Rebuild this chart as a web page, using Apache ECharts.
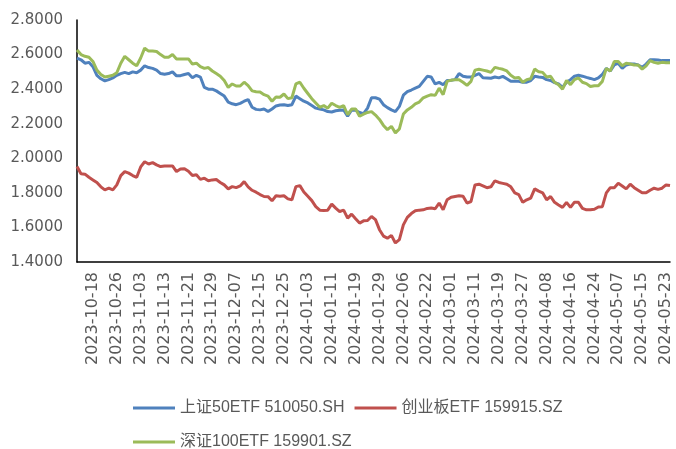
<!DOCTYPE html>
<html>
<head>
<meta charset="utf-8">
<script src="https://cdn.jsdelivr.net/npm/echarts/dist/echarts.min.js"></script>
<style>
  html, body { margin: 0; padding: 0; background: #fff; }
  #chart { width: 676px; height: 449px; }
</style>
</head>
<body>
<div id="chart"></div>
<script>
// trading days 2023-10-12 .. 2024-05-24
const dates = [
  '2023-10-12', '2023-10-13', '2023-10-16', '2023-10-17', '2023-10-18', '2023-10-19', '2023-10-20', '2023-10-23', '2023-10-24', '2023-10-25',
  '2023-10-26', '2023-10-27', '2023-10-30', '2023-10-31', '2023-11-01', '2023-11-02', '2023-11-03', '2023-11-06', '2023-11-07', '2023-11-08',
  '2023-11-09', '2023-11-10', '2023-11-13', '2023-11-14', '2023-11-15', '2023-11-16', '2023-11-17', '2023-11-20', '2023-11-21', '2023-11-22',
  '2023-11-23', '2023-11-24', '2023-11-27', '2023-11-28', '2023-11-29', '2023-11-30', '2023-12-01', '2023-12-04', '2023-12-05', '2023-12-06',
  '2023-12-07', '2023-12-08', '2023-12-11', '2023-12-12', '2023-12-13', '2023-12-14', '2023-12-15', '2023-12-18', '2023-12-19', '2023-12-20',
  '2023-12-21', '2023-12-22', '2023-12-25', '2023-12-26', '2023-12-27', '2023-12-28', '2023-12-29', '2024-01-02', '2024-01-03', '2024-01-04',
  '2024-01-05', '2024-01-08', '2024-01-09', '2024-01-10', '2024-01-11', '2024-01-12', '2024-01-15', '2024-01-16', '2024-01-17', '2024-01-18',
  '2024-01-19', '2024-01-22', '2024-01-23', '2024-01-24', '2024-01-25', '2024-01-26', '2024-01-29', '2024-01-30', '2024-01-31', '2024-02-01',
  '2024-02-02', '2024-02-05', '2024-02-06', '2024-02-07', '2024-02-08', '2024-02-19', '2024-02-20', '2024-02-21', '2024-02-22', '2024-02-23',
  '2024-02-26', '2024-02-27', '2024-02-28', '2024-02-29', '2024-03-01', '2024-03-04', '2024-03-05', '2024-03-06', '2024-03-07', '2024-03-08',
  '2024-03-11', '2024-03-12', '2024-03-13', '2024-03-14', '2024-03-15', '2024-03-18', '2024-03-19', '2024-03-20', '2024-03-21', '2024-03-22',
  '2024-03-25', '2024-03-26', '2024-03-27', '2024-03-28', '2024-03-29', '2024-04-01', '2024-04-02', '2024-04-03', '2024-04-08', '2024-04-09',
  '2024-04-10', '2024-04-11', '2024-04-12', '2024-04-15', '2024-04-16', '2024-04-17', '2024-04-18', '2024-04-19', '2024-04-22', '2024-04-23',
  '2024-04-24', '2024-04-25', '2024-04-26', '2024-04-29', '2024-04-30', '2024-05-06', '2024-05-07', '2024-05-08', '2024-05-09', '2024-05-10',
  '2024-05-13', '2024-05-14', '2024-05-15', '2024-05-16', '2024-05-17', '2024-05-20', '2024-05-21', '2024-05-22', '2024-05-23', '2024-05-24'
]

const tickLabels = [
  '2023-10-18', '2023-10-26', '2023-11-03', '2023-11-13', '2023-11-21', '2023-11-29', '2023-12-07', '2023-12-15', '2023-12-25',
  '2024-01-03', '2024-01-11', '2024-01-19', '2024-01-29', '2024-02-06', '2024-02-22', '2024-03-01', '2024-03-11', '2024-03-19',
  '2024-03-27', '2024-04-08', '2024-04-16', '2024-04-24', '2024-05-07', '2024-05-15', '2024-05-23'
]

const seriesNames = ['上证50ETF 510050.SH', '创业板ETF 159915.SZ', '深证100ETF 159901.SZ']

const sz50 = [
  2.580, 2.570, 2.550, 2.555, 2.530, 2.480, 2.460, 2.448, 2.455, 2.465,
  2.480, 2.490, 2.497, 2.490, 2.500, 2.495, 2.510, 2.535, 2.525, 2.520,
  2.510, 2.490, 2.486, 2.490, 2.500, 2.477, 2.478, 2.485, 2.490, 2.466,
  2.480, 2.470, 2.410, 2.400, 2.400, 2.390, 2.375, 2.360, 2.325, 2.315,
  2.310, 2.318, 2.330, 2.340, 2.295, 2.283, 2.280, 2.285, 2.270, 2.285,
  2.303, 2.308, 2.310, 2.305, 2.310, 2.360, 2.345, 2.330, 2.320, 2.305,
  2.290, 2.285, 2.280, 2.270, 2.268, 2.275, 2.278, 2.280, 2.243, 2.280,
  2.278, 2.265, 2.258, 2.290, 2.350, 2.350, 2.342, 2.310, 2.293, 2.280,
  2.270, 2.300, 2.365, 2.385, 2.395, 2.406, 2.416, 2.445, 2.474, 2.470,
  2.430, 2.439, 2.425, 2.450, 2.452, 2.455, 2.490, 2.475, 2.470, 2.470,
  2.480, 2.490, 2.466, 2.465, 2.463, 2.470, 2.465, 2.474, 2.460, 2.445,
  2.445, 2.445, 2.440, 2.440, 2.450, 2.474, 2.470, 2.468, 2.455, 2.450,
  2.438, 2.430, 2.410, 2.440, 2.455, 2.475, 2.480, 2.475, 2.468, 2.462,
  2.455, 2.465, 2.485, 2.520, 2.505, 2.540, 2.550, 2.520, 2.540, 2.545,
  2.545, 2.540, 2.526, 2.545, 2.570, 2.570, 2.568, 2.565, 2.565, 2.565
]

const cyb = [
  1.952, 1.910, 1.908, 1.890, 1.875, 1.860, 1.835, 1.817, 1.827, 1.817,
  1.846, 1.900, 1.923, 1.914, 1.900, 1.890, 1.950, 1.980, 1.967, 1.975,
  1.962, 1.952, 1.955, 1.955, 1.956, 1.923, 1.938, 1.940, 1.925, 1.900,
  1.905, 1.878, 1.885, 1.870, 1.875, 1.877, 1.860, 1.846, 1.823, 1.836,
  1.830, 1.840, 1.865, 1.835, 1.815, 1.804, 1.790, 1.779, 1.778, 1.754,
  1.783, 1.780, 1.783, 1.765, 1.760, 1.836, 1.842, 1.805, 1.780, 1.755,
  1.720, 1.700, 1.698, 1.700, 1.735, 1.712, 1.692, 1.700, 1.654, 1.677,
  1.650, 1.625, 1.638, 1.640, 1.663, 1.645, 1.587, 1.550, 1.538, 1.554,
  1.510, 1.530, 1.615, 1.658, 1.680, 1.696, 1.700, 1.702, 1.710, 1.712,
  1.708, 1.741, 1.702, 1.760, 1.775, 1.779, 1.783, 1.780, 1.741, 1.750,
  1.846, 1.850, 1.840, 1.830, 1.835, 1.870, 1.860, 1.855, 1.850, 1.835,
  1.800, 1.790, 1.745, 1.760, 1.770, 1.823, 1.810, 1.800, 1.760, 1.779,
  1.745, 1.730, 1.716, 1.745, 1.716, 1.746, 1.745, 1.710, 1.702, 1.702,
  1.705, 1.718, 1.720, 1.800, 1.830, 1.830, 1.855, 1.840, 1.823, 1.850,
  1.830, 1.815, 1.800, 1.800, 1.815, 1.827, 1.820, 1.827, 1.846, 1.842
]

const sz100 = [
  2.627, 2.600, 2.590, 2.585, 2.560, 2.510, 2.485, 2.470, 2.475, 2.480,
  2.495, 2.550, 2.590, 2.570, 2.550, 2.535, 2.580, 2.637, 2.620, 2.620,
  2.618, 2.600, 2.585, 2.585, 2.600, 2.575, 2.575, 2.575, 2.575, 2.545,
  2.550, 2.530, 2.520, 2.525, 2.505, 2.490, 2.475, 2.450, 2.410, 2.430,
  2.418, 2.418, 2.440, 2.420, 2.390, 2.385, 2.383, 2.368, 2.360, 2.330,
  2.355, 2.353, 2.372, 2.345, 2.350, 2.430, 2.440, 2.405, 2.375, 2.345,
  2.320, 2.295, 2.305, 2.290, 2.318, 2.305, 2.295, 2.305, 2.252, 2.285,
  2.285, 2.243, 2.255, 2.265, 2.270, 2.250, 2.225, 2.190, 2.166, 2.185,
  2.147, 2.170, 2.256, 2.280, 2.295, 2.315, 2.325, 2.350, 2.360, 2.368,
  2.364, 2.406, 2.368, 2.445, 2.452, 2.455, 2.455, 2.440, 2.422, 2.445,
  2.510, 2.515, 2.510, 2.505, 2.497, 2.526, 2.520, 2.515, 2.505, 2.480,
  2.465, 2.468, 2.440, 2.455, 2.460, 2.516, 2.500, 2.497, 2.470, 2.474,
  2.440, 2.425, 2.400, 2.450, 2.426, 2.455, 2.465, 2.440, 2.432, 2.415,
  2.420, 2.420, 2.445, 2.520, 2.505, 2.560, 2.560, 2.535, 2.550, 2.545,
  2.540, 2.540, 2.516, 2.535, 2.565, 2.555, 2.550, 2.555, 2.553, 2.553
]

const COLORS = ['#4F81BD', '#C0504D', '#9BBB59']
const TEXT_COLOR = '#595959'
const AXIS_FONT = "'DejaVu Sans', sans-serif"
const LEGEND_FONT = "'Liberation Sans', 'Noto Sans CJK SC', sans-serif"

const chart = echarts.init(document.getElementById('chart'))

function lineSeries(name, data, color) {
  return {
    name,
    type: 'line',
    data,
    symbol: 'none',
    lineStyle: { width: 3, color },
    itemStyle: { color },
  }
}

const legendBase = {
  icon: 'rect',
  itemWidth: 42,
  itemHeight: 3,
  itemGap: 10,
  textStyle: { color: TEXT_COLOR, fontSize: 16, fontFamily: LEGEND_FONT },
}

chart.setOption({
  animation: false,
  color: COLORS,
  grid: { left: 77, right: 6, top: 20, bottom: 187 },
  legend: [
    { ...legendBase, data: [seriesNames[0], seriesNames[1]], left: 128, top: 395 },
    { ...legendBase, data: [seriesNames[2]], left: 128, top: 429 },
  ],
  xAxis: {
    type: 'category',
    data: dates,
    boundaryGap: false,
    axisLine: { lineStyle: { color: '#000', width: 1.5 } },
    axisTick: { show: false },
    axisLabel: {
      rotate: 90,
      margin: 10,
      interval: (idx, value) => tickLabels.includes(value),
      color: TEXT_COLOR,
      fontSize: 16,
      fontFamily: AXIS_FONT,
    },
  },
  yAxis: {
    type: 'value',
    min: 1.4,
    max: 2.8,
    interval: 0.2,
    splitLine: { show: false },
    axisLine: { show: true, lineStyle: { color: '#000', width: 1.5 } },
    axisTick: { show: false },
    axisLabel: {
      margin: 14,
      color: TEXT_COLOR,
      fontSize: 15,
      fontFamily: AXIS_FONT,
      formatter: (v) => v.toFixed(4),
    },
  },
  series: [
    lineSeries(seriesNames[0], sz50, COLORS[0]),
    lineSeries(seriesNames[1], cyb, COLORS[1]),
    lineSeries(seriesNames[2], sz100, COLORS[2]),
  ],
})
</script>
</body>
</html>
